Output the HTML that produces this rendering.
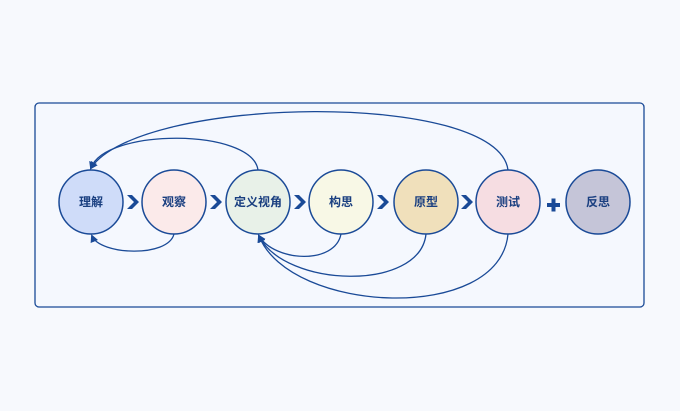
<!DOCTYPE html>
<html><head><meta charset="utf-8"><style>
html,body{margin:0;padding:0;background:#f7f9fd;}
svg{display:block;}
text{font-family:"Liberation Sans","Noto Sans CJK SC",sans-serif;font-weight:bold;font-size:12px;fill:#1a3f80;}
</style></head><body>
<svg width="680" height="411" viewBox="0 0 680 411">
<defs><marker id="a" markerWidth="8" markerHeight="8" refX="6" refY="4" orient="auto" markerUnits="userSpaceOnUse"><path d="M0,0 L8,4 L0,8 Z" fill="#1a4a97"/></marker></defs>
<rect x="35" y="103" width="609" height="204" rx="4" fill="#f5f8fe" stroke="#1a4a97" stroke-width="1.3"/>
<g fill="none" stroke="#1a4a97" stroke-width="1.3">
<path d="M258,170 C252,128 105,128 91,168" marker-end="url(#a)"/>
<path d="M508,170 C498,90 140,95 91,168" marker-end="url(#a)"/>
<path d="M174,234 C168,258 100,255 92,236" marker-end="url(#a)"/>
<path d="M341,234 C335,265 275,262 259,236" marker-end="url(#a)"/>
<path d="M426,234 C420,292 285,288 259,236" marker-end="url(#a)"/>
<path d="M508,234 C500,324 290,314 259,236" marker-end="url(#a)"/>
</g>
<g stroke="#1a4a97" stroke-width="1.5">
<circle cx="91" cy="202" r="32" fill="#cfdcf9"/>
<circle cx="174" cy="202" r="32" fill="#fbeaea"/>
<circle cx="258" cy="202" r="32" fill="#e8f1e8"/>
<circle cx="341" cy="202" r="32" fill="#f8f8e6"/>
<circle cx="426" cy="202" r="32" fill="#f0e0bb"/>
<circle cx="508" cy="202" r="32" fill="#f6dde2"/>
<circle cx="598" cy="202" r="32" fill="#c5c5d8"/>
</g>
<g fill="#1a4a97">
<path d="M127,195 h5 l7,7 l-7,7 h-5 l7,-7 z"/>
<path d="M210,195 h5 l7,7 l-7,7 h-5 l7,-7 z"/>
<path d="M294,195 h5 l7,7 l-7,7 h-5 l7,-7 z"/>
<path d="M377,195 h5 l7,7 l-7,7 h-5 l7,-7 z"/>
<path d="M461,195 h5 l7,7 l-7,7 h-5 l7,-7 z"/>
<rect x="547" y="203" width="13" height="4"/>
<rect x="551.5" y="198.5" width="4" height="13"/>
</g>
<g text-anchor="middle">
<text x="91" y="206">理解</text>
<text x="174" y="206">观察</text>
<text x="258" y="206">定义视角</text>
<text x="341" y="206">构思</text>
<text x="426" y="206">原型</text>
<text x="508" y="206">测试</text>
<text x="598" y="206">反思</text>
</g>
</svg>
</body></html>
